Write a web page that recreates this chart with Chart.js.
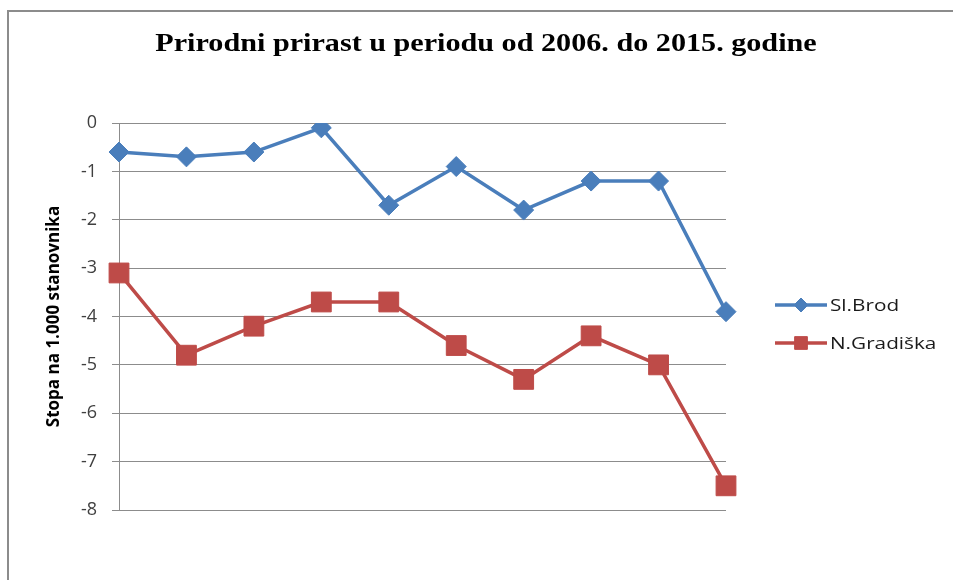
<!DOCTYPE html>
<html>
<head>
<meta charset="utf-8">
<script src="https://cdn.jsdelivr.net/npm/chart.js@4"></script>
<style>
    html, body { margin: 0; padding: 0; background: #fff; overflow: hidden; }
    canvas { position: absolute; left: 0; top: 0; }
</style>
</head>
<body>
<canvas id="chartPrirast" width="953" height="580"></canvas>
<script>
// Godine (kategorije na x osi - u originalu bez oznaka)
const godine = ['2006', '2007', '2008', '2009', '2010', '2011', '2012', '2013', '2014', '2015'];

// Stopa prirodnog prirasta na 1.000 stanovnika
const slBrod = [-0.6, -0.7, -0.6, -0.1, -1.7, -0.9, -1.8, -1.2, -1.2, -3.9];
const nGradiska = [-3.1, -4.8, -4.2, -3.7, -3.7, -4.6, -5.3, -4.4, -5.0, -7.5];

const yTicks = [0, -1, -2, -3, -4, -5, -6, -7, -8];

const naslov = 'Prirodni prirast u periodu od 2006. do 2015. godine';

const BLUE = '#4a7ebb';
const RED = '#be4b48';

// Okvir grafikona (lijevo i gore, ostatak je odrezan)
const framePlugin = {
    id: 'chartFrame',
    beforeDraw(chart) {
        const ctx = chart.ctx;
        ctx.save();
        ctx.strokeStyle = '#8c8c8c';
        ctx.lineWidth = 2;
        ctx.beginPath();
        ctx.moveTo(8, 600);
        ctx.lineTo(8, 11);
        ctx.lineTo(1000, 11);
        ctx.stroke();
        ctx.restore();
    }
};

// Naslov - u originalu je slika malo razvučena vodoravno
const titlePlugin = {
    id: 'stretchedTitle',
    afterDraw(chart) {
        const ctx = chart.ctx;
        ctx.save();
        ctx.translate(486, 44);
        ctx.scale(1.16, 1);
        ctx.fillStyle = '#000';
        ctx.font = 'bold 26px "Liberation Serif", "Times New Roman", serif';
        ctx.textAlign = 'center';
        ctx.textBaseline = 'middle';
        ctx.fillText(naslov, 0, 0);
        ctx.restore();
    }
};

// Legenda kao u Excelu: linija + marker
const legendPlugin = {
    id: 'excelLegend',
    afterDraw(chart) {
        const ctx = chart.ctx;
        const items = chart.data.datasets.map((ds, i) => ({
            text: ds.label,
            color: ds.borderColor,
            style: ds.pointStyle,
            r: i === 0 ? 7 : 9,
            y: 305 + i * 38
        }));
        ctx.save();
        items.forEach(item => {
            ctx.strokeStyle = item.color;
            ctx.lineWidth = 3.5;
            ctx.beginPath();
            ctx.moveTo(775, item.y);
            ctx.lineTo(827, item.y);
            ctx.stroke();
            ctx.fillStyle = item.color;
            ctx.lineWidth = 1;
            Chart.helpers.drawPoint(ctx, { pointStyle: item.style, radius: item.r, borderWidth: 1 }, 801, item.y);

            ctx.save();
            ctx.translate(830, item.y + 1);
            ctx.scale(1.22, 1);
            ctx.fillStyle = '#1a1a1a';
            ctx.font = '17px "Open Sans"';
            ctx.textAlign = 'left';
            ctx.textBaseline = 'middle';
            ctx.fillText(item.text, 0, 0);
            ctx.restore();
        });
        ctx.restore();
    }
};

const ctx = document.getElementById('chartPrirast');
const chart = new Chart(ctx, {
    type: 'line',
    data: {
        labels: godine,
        datasets: [
            {
                label: 'Sl.Brod',
                data: slBrod,
                borderColor: BLUE,
                backgroundColor: BLUE,
                borderWidth: 3.5,
                pointStyle: 'rectRot',
                pointRadius: 10,
                pointBorderWidth: 1,
                tension: 0
            },
            {
                label: 'N.Gradiška',
                data: nGradiska,
                borderColor: RED,
                backgroundColor: RED,
                borderWidth: 3.5,
                pointStyle: 'rect',
                pointRadius: 14,
                pointBorderWidth: 1,
                tension: 0
            }
        ]
    },
    options: {
        responsive: false,
        animation: false,
        layout: { padding: { left: 0, top: 123, right: 227, bottom: 70 } },
        plugins: {
            legend: { display: false },
            tooltip: { enabled: false },
            title: { display: false }
        },
        scales: {
            x: {
                type: 'category',
                display: false,
                offset: false
            },
            y: {
                min: -8,
                max: 0,
                afterFit(scale) { scale.width = 119; },
                afterBuildTicks(scale) { scale.ticks = yTicks.map(v => ({ value: v })); },
                ticks: {
                    color: '#404040',
                    font: { family: '"Open Sans", sans-serif', size: 18 },
                    padding: 15
                },
                grid: { color: '#8c8c8c', lineWidth: 1, tickLength: 7, tickColor: '#8c8c8c' },
                border: { color: '#8c8c8c', width: 1 },
                title: {
                    display: true,
                    text: 'Stopa na 1.000 stanovnika',
                    color: '#000',
                    font: { family: '"Open Sans", sans-serif', size: 17, weight: 'bold' },
                    padding: { top: 44, bottom: 0 }
                }
            }
        }
    },
    plugins: [framePlugin, titlePlugin, legendPlugin]
});
</script>
</body>
</html>
